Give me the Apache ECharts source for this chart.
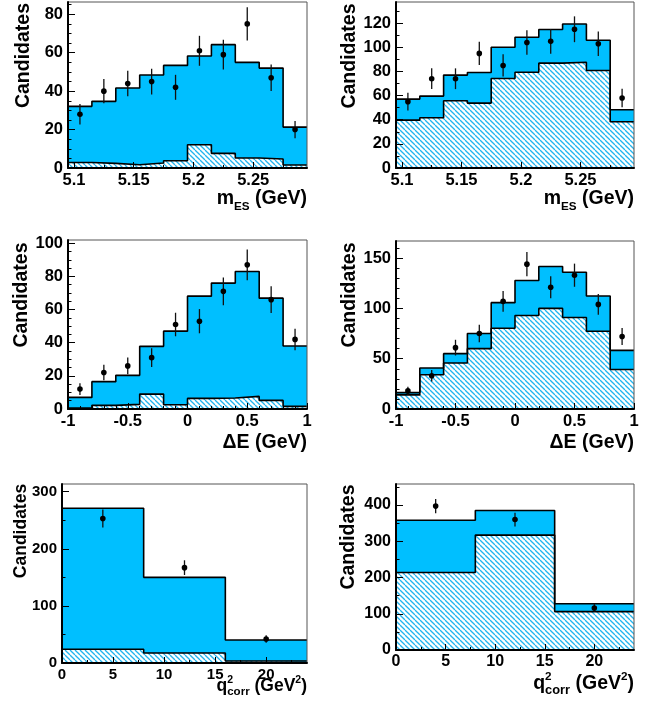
<!DOCTYPE html>
<html><head><meta charset="utf-8">
<script src="https://cdn.jsdelivr.net/npm/echarts@6/dist/echarts.min.js"></script>
<style>html,body{margin:0;padding:0;background:#fff}#c{width:657px;height:705px}</style>
</head><body><div id="c"></div>
<script>
// ---------- data ----------
// bin edges
const mesEdges = [5.095,5.115,5.135,5.155,5.175,5.195,5.215,5.235,5.255,5.275,5.295];
const deEdges  = [-1,-0.8,-0.6,-0.4,-0.2,0,0.2,0.4,0.6,0.8,1];
const q2Edges  = [0,8,16,24];
// tick labels
const mesTicks = [5.1,5.15,5.2,5.25];
const mesMinor = [5.125,5.175,5.225,5.275];
const deTicks  = [-1,-0.5,0,0.5,1];
const deMinor  = [-0.9,-0.8,-0.7,-0.6,-0.4,-0.3,-0.2,-0.1,0.1,0.2,0.3,0.4,0.6,0.7,0.8,0.9];
const q2Ticks  = [0,5,10,15,20];
const q2Minor  = [2.5,7.5,12.5,17.5,22.5];
const y1Ticks = [0,20,40,60,80];
const y1Minor = [5,10,15,25,30,35,45,50,55,65,70,75,85];
const y2Ticks = [0,20,40,60,80,100,120];
const y2Minor = [10,30,50,70,90,110,130];
const y3Ticks = [0,20,40,60,80,100];
const y3Minor = [5,10,15,25,30,35,45,50,55,65,70,75,85,90,95];
const y4Ticks = [0,50,100,150];
const y4Minor = [10,20,30,40,60,70,80,90,110,120,130,140,160];
const y5Ticks = [0,100,200,300];
const y5Minor = [50,150,250];
const y6Ticks = [0,100,200,300,400];
const y6Minor = [50,150,250,350,450];

// panel 1: m_ES (left)
const p1Total = [32.1,34.7,41.6,48.4,53.4,58.3,64.2,55.0,52.0,21.3];
const p1Bkg   = [2.9,2.4,1.7,2.6,3.8,12.1,7.6,5.2,4.7,1.6];
const p1Data  = [28,40,44,45,42,61,59,75,47,20];
const p1Err   = [5.3,6.3,6.6,6.7,6.5,7.8,7.7,8.7,6.9,4.5];
// panel 2: m_ES (right)
const p2Total = [57.1,59.6,77.0,79.2,100.1,108.4,114.8,119.4,105.9,48.3];
const p2Bkg   = [39.7,41.7,55.7,53.8,74.2,79.4,86.9,87.7,80.8,38.3];
const p2Data  = [55,74,74,95,85,104,105,115,103,58];
const p2Err   = [7.4,8.6,8.6,9.7,9.2,10.2,10.2,10.7,10.1,7.6];
// panel 3: Delta E (left)
const p3Total = [7.0,16.5,20.3,37.8,47.0,68.1,76.0,83.0,66.9,38.0];
const p3Bkg   = [0.6,2.2,2.8,9.0,2.6,6.4,6.6,7.6,5.2,1.6];
const p3Data  = [12,22,26,31,51,53,71,87,66,42];
const p3Err   = [3.5,4.7,5.1,5.6,7.1,7.3,8.4,9.3,8.1,6.5];
// panel 4: Delta E (right)
const p4Total = [16.3,40.7,55.0,75.0,105.7,127.7,141.7,136.0,112.3,58.3];
const p4Bkg   = [14.0,34.0,45.7,60.0,80.3,93.0,100.0,91.0,77.3,39.3];
const p4Data  = [18,33,61,75,107,144,121,133,104,72];
const p4Err   = [4.2,5.7,7.8,8.7,10.3,12.0,11.0,11.5,10.2,8.5];
// panel 5: q2 (left)
const p5Total = [271,150,40.4];
const p5Bkg   = [24,17.5,3.5];
const p5Data  = [253,167,42];
const p5Err   = [15.9,12.9,6.5];
// panel 6: q2 (right)
const p6Total = [358,385,127.5];
const p6Bkg   = [214,317,106];
const p6Data  = [397,360,116];
const p6Err   = [19.9,19.0,10.8];

// ---------- styling ----------
const BLUE = '#00BFFF';
const FONT = 'Liberation Sans';

function makeHatch(){
  const s = 5, c = document.createElement('canvas');
  c.width = s; c.height = s;
  const g = c.getContext('2d');
  g.fillStyle = '#fff'; g.fillRect(0,0,s,s);
  g.strokeStyle = '#22b4ee'; g.lineWidth = 1.3;
  for (const o of [-s,0,s]) { g.beginPath(); g.moveTo(o,0); g.lineTo(o+s,s); g.stroke(); }
  return c;
}
const HATCH = {image: makeHatch(), repeat: 'repeat'};

const mctx = document.createElement('canvas').getContext('2d');
function tw(t, size){ mctx.font = 'bold ' + size + 'px "' + FONT + '"'; return mctx.measureText(t).width; }
function fmt(v){ return String(+(+v).toFixed(3)); }

function stepData(edges, vals){
  const d = [];
  for (let i = 0; i < edges.length; i++) d.push([edges[i], vals[Math.min(i, vals.length-1)]]);
  return d;
}
function pointData(edges, vals, errs){
  return vals.map((v,i)=>[(edges[i]+edges[i+1])/2, v, errs[i]]);
}

const MES_TITLE = [{t:'m',k:1,dy:0},{t:'ES',k:0.6,dy:0.41},{t:' (GeV)',k:1,dy:0}];
const DE_TITLE  = [{t:'\u0394E (GeV)',k:1,dy:0}];
const Q2_TITLE  = [{t:'q',k:1,dy:0},{t:'2',k:0.6,dy:-0.36},{t:'corr',k:0.66,dy:0.33,stack:true},{t:' (GeV',k:1,dy:0},{t:'2',k:0.6,dy:-0.36},{t:')',k:1,dy:0}];

const panels = [
  {grid:{left:68,top:2,width:239,height:166}, edges:mesEdges, total:p1Total, bkg:p1Bkg, data:p1Data, err:p1Err,
   xr:[5.095,5.295], yMax:86.4, xt:mesTicks, xm:mesMinor, yt:y1Ticks, ym:y1Minor, fs:16.5, ts:19.5,
   cand:[23.5,55.5], title:MES_TITLE, titleY:199},
  {grid:{left:396,top:2,width:238,height:166}, edges:mesEdges, total:p2Total, bkg:p2Bkg, data:p2Data, err:p2Err,
   xr:[5.095,5.295], yMax:137.6, xt:mesTicks, xm:mesMinor, yt:y2Ticks, ym:y2Minor, fs:16.5, ts:19.5,
   cand:[349.5,56], title:MES_TITLE, titleY:199},
  {grid:{left:68,top:240,width:239,height:169}, edges:deEdges, total:p3Total, bkg:p3Bkg, data:p3Data, err:p3Err,
   xr:[-1,1], yMax:102, xt:deTicks, xm:deMinor, yt:y3Ticks, ym:y3Minor, fs:16.5, ts:19.5,
   cand:[22,295], title:DE_TITLE, titleY:443},
  {grid:{left:396,top:241,width:238,height:168}, edges:deEdges, total:p4Total, bkg:p4Bkg, data:p4Data, err:p4Err,
   xr:[-1,1], yMax:167, xt:deTicks, xm:deMinor, yt:y4Ticks, ym:y4Minor, fs:16.5, ts:19.5,
   cand:[350,295], title:DE_TITLE, titleY:443},
  {grid:{left:62,top:484,width:245,height:179}, edges:q2Edges, total:p5Total, bkg:p5Bkg, data:p5Data, err:p5Err,
   xr:[0,24], yMax:313.5, xt:q2Ticks, xm:q2Minor, yt:y5Ticks, ym:y5Minor, fs:15, ts:17.5,
   cand:[21,531], title:Q2_TITLE, titleY:686},
  {grid:{left:396,top:484,width:238,height:166}, edges:q2Edges, total:p6Total, bkg:p6Bkg, data:p6Data, err:p6Err,
   xr:[0,24], yMax:458, xt:q2Ticks, xm:q2Minor, yt:y6Ticks, ym:y6Minor, fs:16, ts:19.5,
   cand:[349,537], title:Q2_TITLE, titleY:684}
];

function titleEls(parts, right, midY, base){
  const cols = [];
  parts.forEach(p=>{ if (p.stack) cols[cols.length-1].push(p); else cols.push([p]); });
  const widths = cols.map(c=>Math.max(...c.map(p=>tw(p.t, base*p.k))));
  const total = widths.reduce((a,b)=>a+b,0);
  let x = right - total; const els = [];
  cols.forEach((c,ci)=>{
    c.forEach(p=>{
      els.push({type:'text', x:x, y:midY + p.dy*base, z:20,
        style:{text:p.t, font:'bold ' + (base*p.k) + 'px "' + FONT + '"', fill:'#000',
               textAlign:'left', align:'left', textVerticalAlign:'middle', verticalAlign:'middle'}});
    });
    x += widths[ci];
  });
  return els;
}

const option = {animation:false, backgroundColor:'#fff', grid:[], xAxis:[], yAxis:[], series:[], graphic:[]};

panels.forEach((p,i)=>{
  option.grid.push(Object.assign({show:true, borderColor:'#555', borderWidth:1, backgroundColor:'transparent', z:4}, p.grid));
  const lab = {color:'#000', fontFamily:FONT, fontWeight:'bold', fontSize:p.fs, formatter:fmt};
  const xi = option.xAxis.length;
  option.xAxis.push({type:'value', gridIndex:i, position:'bottom', min:p.xr[0], max:p.xr[1], z:6,
    axisLine:{show:true, onZero:false, lineStyle:{color:'#000', width:2}},
    axisTick:{show:true, inside:true, length:6, customValues:p.xt, lineStyle:{color:'#000', width:1}},
    axisLabel:Object.assign({show:true, customValues:p.xt, margin:4}, lab),
    splitLine:{show:false}});
  option.xAxis.push({type:'value', gridIndex:i, position:'bottom', min:p.xr[0], max:p.xr[1], z:6,
    axisLine:{show:false, onZero:false},
    axisTick:{show:true, inside:true, length:3, customValues:p.xm, lineStyle:{color:'#000', width:1}},
    axisLabel:{show:false}, splitLine:{show:false}});
  const yi = option.yAxis.length;
  option.yAxis.push({type:'value', gridIndex:i, position:'left', min:0, max:p.yMax, z:6,
    axisLine:{show:true, onZero:false, lineStyle:{color:'#000', width:2}},
    axisTick:{show:true, inside:true, length:7, customValues:p.yt, lineStyle:{color:'#000', width:1}},
    axisLabel:Object.assign({show:true, customValues:p.yt, margin:5}, lab),
    splitLine:{show:false}});
  option.yAxis.push({type:'value', gridIndex:i, position:'left', min:0, max:p.yMax, z:6,
    axisLine:{show:false, onZero:false},
    axisTick:{show:true, inside:true, length:3.5, customValues:p.ym, lineStyle:{color:'#000', width:1}},
    axisLabel:{show:false}, splitLine:{show:false}});

  option.series.push({type:'line', xAxisIndex:xi, yAxisIndex:yi, step:'end', symbol:'none', silent:true, z:2,
    data:stepData(p.edges, p.total), lineStyle:{color:'#000', width:1.6}, areaStyle:{color:BLUE, opacity:1}});
  option.series.push({type:'line', xAxisIndex:xi, yAxisIndex:yi, step:'end', symbol:'none', silent:true, z:2,
    data:stepData(p.edges, p.bkg), lineStyle:{color:'#000', width:1.6}, areaStyle:{color:HATCH, opacity:1}});
  option.series.push({type:'custom', xAxisIndex:xi, yAxisIndex:yi, silent:true, z:3,
    encode:{x:0, y:1},
    data:pointData(p.edges, p.data, p.err),
    renderItem:function(params, api){
      const x = api.value(0), y = api.value(1), e = api.value(2);
      const c = api.coord([x,y]), t = api.coord([x,y+e]), b = api.coord([x,y-e]);
      return {type:'group', children:[
        {type:'line', shape:{x1:c[0], y1:t[1], x2:c[0], y2:b[1]}, style:{stroke:'#111', lineWidth:1.3}},
        {type:'circle', shape:{cx:c[0], cy:c[1], r:2.8}, style:{fill:'#000'}}
      ]};
    }});

  // y title
  option.graphic.push({type:'text', x:p.cand[0], y:p.cand[1], rotation:Math.PI/2, z:20,
    style:{text:'Candidates', font:'bold ' + p.ts + 'px "' + FONT + '"', fill:'#000',
           textAlign:'center', align:'center', textVerticalAlign:'middle', verticalAlign:'middle'}});
  // x title
  const right = p.grid.left + p.grid.width;
  titleEls(p.title, right, p.titleY, p.ts).forEach(e=>option.graphic.push(e));
});

const chart = echarts.init(document.getElementById('c'), null, {renderer:'canvas'});
chart.setOption(option);
</script>
</body></html>
